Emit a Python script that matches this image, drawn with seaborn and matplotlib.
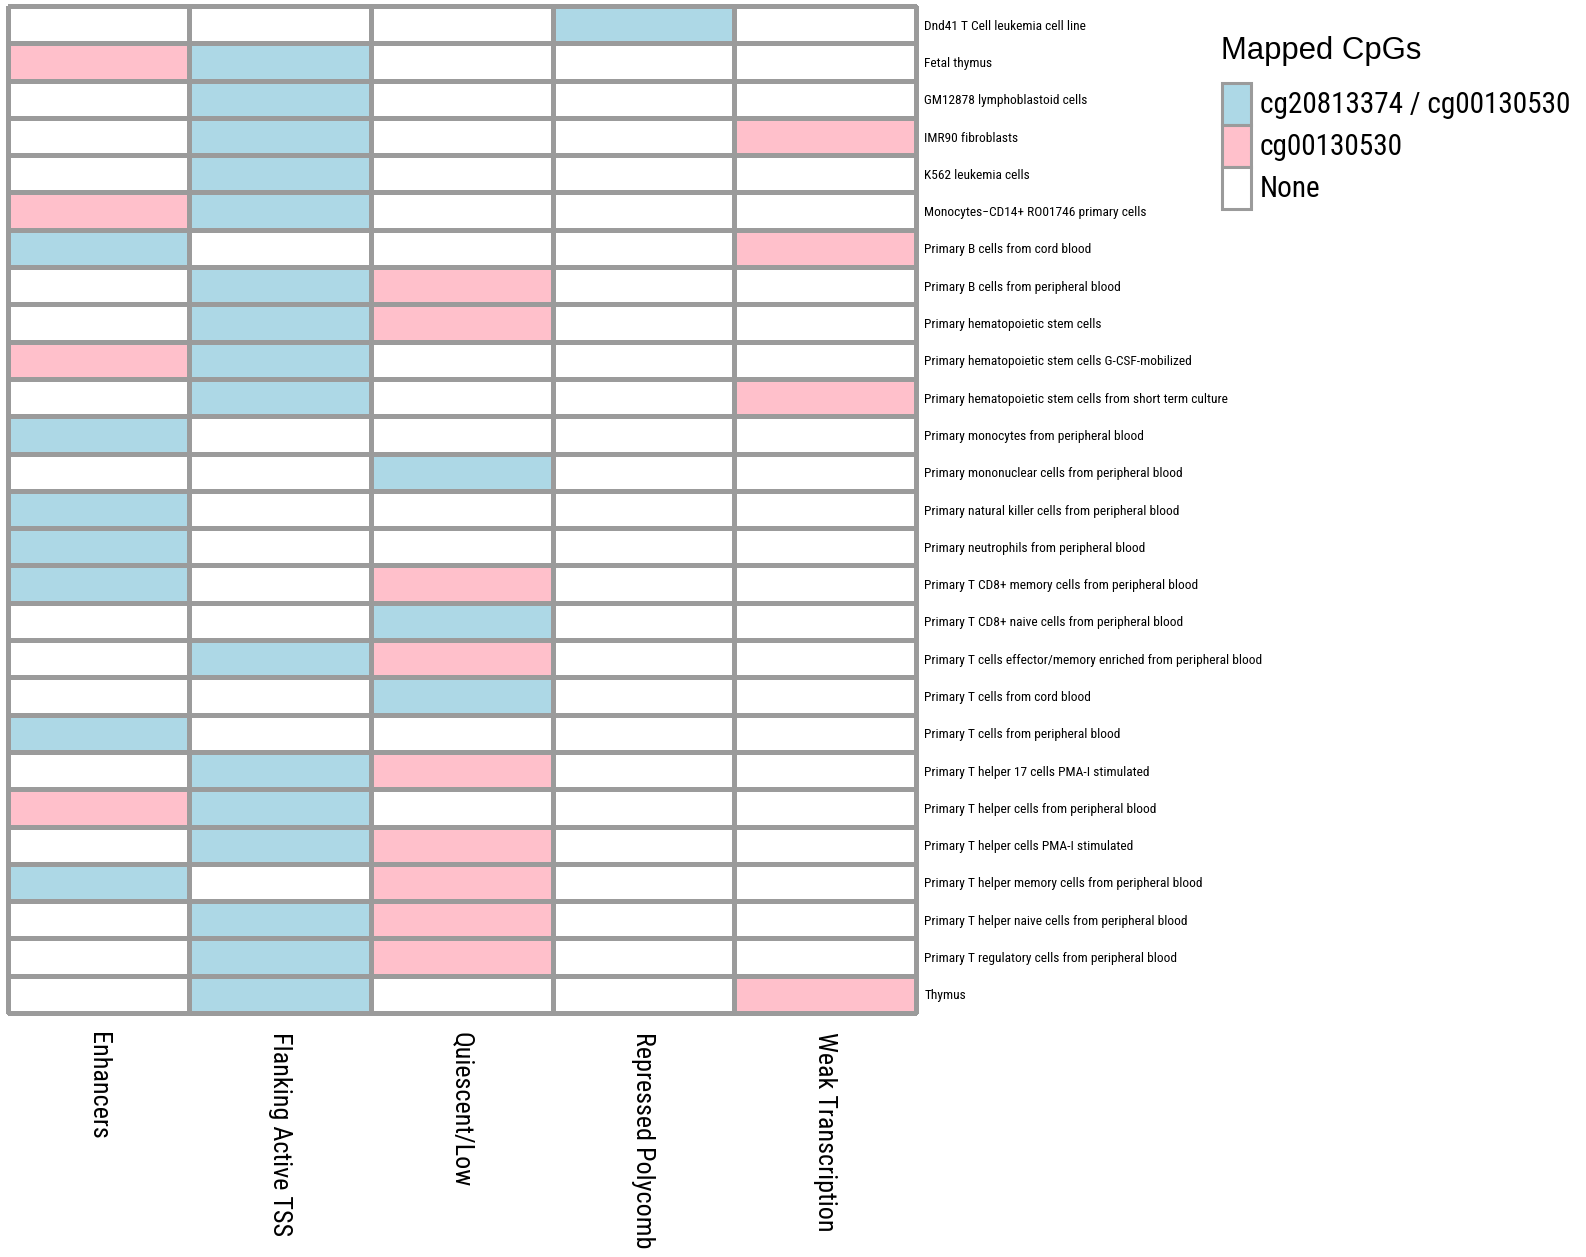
import numpy as np
import pandas as pd
import seaborn as sns
import matplotlib
matplotlib.use("Agg")
import matplotlib.pyplot as plt
from matplotlib.colors import ListedColormap
from matplotlib.patches import Patch
from matplotlib import font_manager

cell_types = [
    "Dnd41 T Cell leukemia cell line",
    "Fetal thymus",
    "GM12878 lymphoblastoid cells",
    "IMR90 fibroblasts",
    "K562 leukemia cells",
    "Monocytes\u2212CD14+ RO01746 primary cells",
    "Primary B cells from cord blood",
    "Primary B cells from peripheral blood",
    "Primary hematopoietic stem cells",
    "Primary hematopoietic stem cells G-CSF-mobilized",
    "Primary hematopoietic stem cells from short term culture",
    "Primary monocytes from peripheral blood",
    "Primary mononuclear cells from peripheral blood",
    "Primary natural killer cells from peripheral blood",
    "Primary neutrophils from peripheral blood",
    "Primary T CD8+ memory cells from peripheral blood",
    "Primary T CD8+ naive cells from peripheral blood",
    "Primary T cells effector/memory enriched from peripheral blood",
    "Primary T cells from cord blood",
    "Primary T cells from peripheral blood",
    "Primary T helper 17 cells PMA-I stimulated",
    "Primary T helper cells from peripheral blood",
    "Primary T helper cells PMA-I stimulated",
    "Primary T helper memory cells from peripheral blood",
    "Primary T helper naive cells from peripheral blood",
    "Primary T regulatory cells from peripheral blood",
    "Thymus",
]

chromatin_states = ["Enhancers", "Flanking Active TSS", "Quiescent/Low",
                    "Repressed Polycomb", "Weak Transcription"]

# 0 = None, 1 = cg20813374 / cg00130530, 2 = cg00130530
enhancers = [0, 2, 0, 0, 0, 2, 1, 0, 0, 2, 0, 1, 0, 1, 1, 1, 0, 0, 0, 1, 0, 2, 0, 1, 0, 0, 0]
flanking_tss = [0, 1, 1, 1, 1, 1, 0, 1, 1, 1, 1, 0, 0, 0, 0, 0, 0, 1, 0, 0, 1, 1, 1, 0, 1, 1, 1]
quiescent = [0, 0, 0, 0, 0, 0, 0, 2, 2, 0, 0, 0, 1, 0, 0, 2, 1, 2, 1, 0, 2, 0, 2, 2, 2, 2, 0]
repressed_pc = [1, 0, 0, 0, 0, 0, 0, 0, 0, 0, 0, 0, 0, 0, 0, 0, 0, 0, 0, 0, 0, 0, 0, 0, 0, 0, 0]
weak_tx = [0, 0, 0, 2, 0, 0, 2, 0, 0, 0, 2, 0, 0, 0, 0, 0, 0, 0, 0, 0, 0, 0, 0, 0, 0, 0, 2]

legend_title = "Mapped CpGs"
legend_labels = ["cg20813374 / cg00130530", "cg00130530", "None"]
state_colors = ["white", "#ADD8E6", "#FFC0CB"]
grid_color = "#9b9b9b"

sns.set_style("white")

# prefer a condensed sans face when one is available
names = {f.name for f in font_manager.fontManager.ttflist}
narrow = None
for pref in ("Liberation Sans Narrow", "Arial Narrow", "Roboto Condensed"):
    if pref in names:
        narrow = pref
        break
if narrow is None:
    for n in sorted(names):
        if "Narrow" in n or "Condensed" in n:
            narrow = n
            break
narrow_family = [narrow or "Liberation Sans", "DejaVu Sans"]
regular_family = ["Liberation Sans", "DejaVu Sans"]
plt.rcParams["font.family"] = narrow_family
plt.rcParams["text.color"] = "black"

df = pd.DataFrame(
    np.column_stack([enhancers, flanking_tss, quiescent, repressed_pc, weak_tx]),
    index=cell_types, columns=chromatin_states,
)

fig = plt.figure(figsize=(15.86, 12.57), dpi=100)
renderer = fig.canvas.get_renderer()


def size_for_width(s, width_px, family, base=20.0):
    t = fig.text(0, 0, s, fontsize=base, family=family)
    w = t.get_window_extent(renderer).width
    t.remove()
    return base * width_px / w


row_fs = size_for_width(cell_types[0], 161, narrow_family)
col_fs = size_for_width(chromatin_states[4], 199, narrow_family)
leg_fs = size_for_width(legend_labels[0], 312, narrow_family)
title_fs = size_for_width(legend_title, 200, regular_family)

ax = fig.add_axes([7.5 / 1586, 1 - 1013 / 1257, (916 - 7.5) / 1586, (1013 - 6) / 1257])

sns.heatmap(df, ax=ax, cmap=ListedColormap(state_colors), vmin=-0.5, vmax=2.5,
            cbar=False, linewidths=2.2, linecolor=grid_color)
for coll in ax.collections:
    coll.set_clip_on(False)

ax.yaxis.tick_right()
ax.set_yticks(np.arange(len(cell_types)) + 0.5)
ax.set_yticklabels(cell_types, rotation=0, fontsize=row_fs, color="black")
ax.set_xticks(np.arange(len(chromatin_states)) + 0.5)
ax.set_xticklabels(chromatin_states, rotation=-90, fontsize=col_fs,
                   va="top", ha="center", color="black")
ax.tick_params(axis="both", length=0)
ax.tick_params(axis="y", pad=6)
ax.tick_params(axis="x", pad=14)
ax.set_xlabel("")
ax.set_ylabel("")
for s in ax.spines.values():
    s.set_visible(False)

# legend: title placed above a stack of touching swatches
fig.text(1221 / 1586, 1 - 36 / 1257, legend_title, fontsize=title_fs,
         family=regular_family, ha="left", va="top", color="black")
handles = [Patch(facecolor=state_colors[1], edgecolor=grid_color, linewidth=2.2),
           Patch(facecolor=state_colors[2], edgecolor=grid_color, linewidth=2.2),
           Patch(facecolor=state_colors[0], edgecolor=grid_color, linewidth=2.2)]
swatch_px = 42.0
font_px = leg_fs * 100 / 72
# legend box height = fontsize * (0.65 * handleheight + 0.245)
handle_h = (swatch_px / font_px - 0.245) / 0.65
fig.legend(handles, legend_labels, loc="upper left",
           bbox_to_anchor=(1222 / 1586, 1 - 83 / 1257),
           frameon=False, fontsize=leg_fs,
           handlelength=29 / font_px, handleheight=handle_h,
           labelspacing=0.0, handletextpad=9 / font_px,
           borderaxespad=0.0, borderpad=0.0)

fig.savefig("out.png", dpi=100)
